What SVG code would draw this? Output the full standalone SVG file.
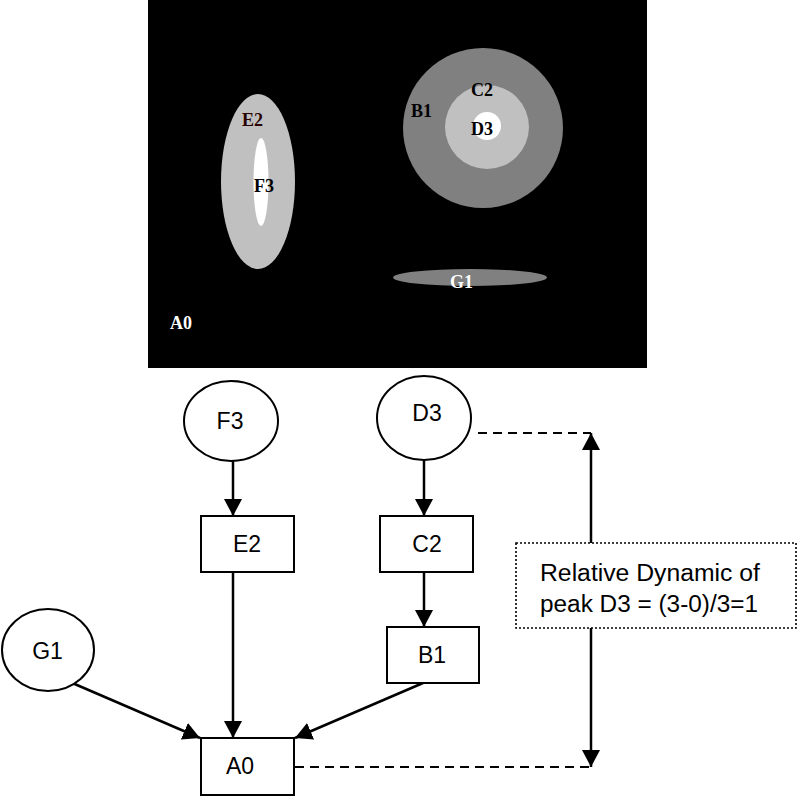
<svg xmlns="http://www.w3.org/2000/svg" width="797" height="796" viewBox="0 0 797 796">
<style>
.lbl{font-family:"Liberation Sans",Arial,sans-serif;font-size:23px;fill:#000;text-anchor:middle}
.img{font-family:"Liberation Serif","Times New Roman",serif;font-size:18px;font-weight:bold}
.node{fill:#fff;stroke:#000;stroke-width:2}
.edge{stroke:#000;stroke-width:2.5;fill:none}
.dash{stroke:#000;stroke-width:2;fill:none;stroke-dasharray:9 6}
</style>
<defs>
<marker id="arr" viewBox="0 0 17 18" refX="17" refY="9" markerWidth="17" markerHeight="18" orient="auto" markerUnits="userSpaceOnUse">
<path d="M0,0 L17,9 L0,18 z" fill="#000"/>
</marker>
</defs>
<rect width="797" height="796" fill="#fff"/>
<g id="image">
<rect x="148" y="0" width="499" height="368" fill="#000"/>
<ellipse cx="258" cy="181.5" rx="37" ry="87.5" fill="#c0c0c0"/>
<ellipse cx="261" cy="182" rx="7.5" ry="44" fill="#fff"/>
<circle cx="483" cy="128" r="80" fill="#808080"/>
<circle cx="487" cy="127" r="42" fill="#c0c0c0"/>
<circle cx="487" cy="126" r="14" fill="#fff"/>
<ellipse cx="470" cy="277.5" rx="77" ry="8.5" fill="#808080"/>
<text class="img" x="242" y="126" fill="#2a0000">E2</text>
<text class="img" x="254" y="192" fill="#000">F3</text>
<text class="img" x="471" y="96" fill="#000">C2</text>
<text class="img" x="411" y="117" fill="#000">B1</text>
<text class="img" x="471" y="135" fill="#000">D3</text>
<text class="img" x="450" y="288" fill="#fff">G1</text>
<text class="img" x="170" y="329" fill="#fff">A0</text>
</g>
<g id="connectors">
<line class="edge" x1="233" y1="461" x2="233" y2="516" marker-end="url(#arr)"/>
<line class="edge" x1="424" y1="460" x2="424" y2="516" marker-end="url(#arr)"/>
<line class="edge" x1="424" y1="572" x2="424" y2="627" marker-end="url(#arr)"/>
<line class="edge" x1="233" y1="572" x2="233" y2="738" marker-end="url(#arr)"/>
<line class="edge" x1="70" y1="682" x2="200" y2="738" marker-end="url(#arr)"/>
<line class="edge" x1="423" y1="683" x2="295" y2="738" marker-end="url(#arr)"/>
<line class="dash" x1="478" y1="433" x2="591" y2="433"/>
<line class="dash" x1="295" y1="767" x2="591" y2="767"/>
<line class="edge" x1="591" y1="543" x2="591" y2="433" marker-end="url(#arr)"/>
<line class="edge" x1="591" y1="628" x2="591" y2="767" marker-end="url(#arr)"/>
</g>
<g id="F3"><ellipse class="node" cx="231" cy="421" rx="47" ry="40"/><text class="lbl" x="230" y="429">F3</text></g>
<g id="D3"><ellipse class="node" cx="424" cy="418" rx="47" ry="42"/><text class="lbl" x="427" y="421">D3</text></g>
<g id="G1"><ellipse class="node" cx="48" cy="650" rx="46" ry="41"/><text class="lbl" x="47.5" y="659">G1</text></g>
<g id="E2"><rect class="node" x="201" y="516" width="93" height="56"/><text class="lbl" x="247" y="552">E2</text></g>
<g id="C2"><rect class="node" x="380" y="516" width="93" height="56"/><text class="lbl" x="427" y="552">C2</text></g>
<g id="B1"><rect class="node" x="387" y="627" width="92" height="56"/><text class="lbl" x="432" y="663">B1</text></g>
<g id="A0"><rect class="node" x="201" y="738" width="93" height="57"/><text class="lbl" x="240" y="774">A0</text></g>
<g id="note">
<rect x="516" y="543" width="280" height="85" fill="#fff" stroke="#000" stroke-width="1.6" stroke-dasharray="2 2"/>
<text class="lbl" x="650" y="581" textLength="220" lengthAdjust="spacingAndGlyphs">Relative Dynamic of</text>
<text class="lbl" x="649" y="612" textLength="218" lengthAdjust="spacingAndGlyphs">peak D3 = (3-0)/3=1</text>
</g>
</svg>
